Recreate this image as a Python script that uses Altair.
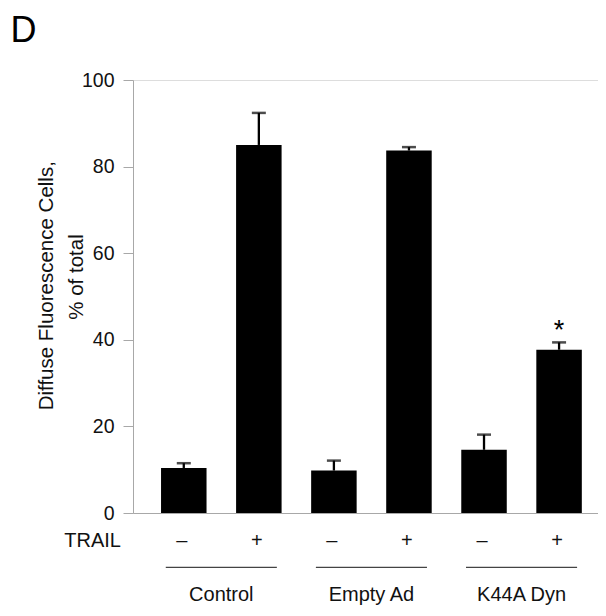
import altair as alt
import pandas as pd

# ---- data ----
groups = ["Control", "Control", "Empty Ad", "Empty Ad", "K44A Dyn", "K44A Dyn"]
trail = ["–", "+", "–", "+", "–", "+"]
values = [10.4, 85.0, 9.8, 83.7, 14.6, 37.7]
err_top = [11.5, 92.4, 12.1, 84.5, 18.1, 39.4]
signif = ["", "", "", "", "", "*"]
group_names = ["Control", "Empty Ad", "K44A Dyn"]
y_ticks = [0, 20, 40, 60, 80, 100]
title_lines = ["Diffuse Fluorescence Cells,", "% of total"]
row_label = "TRAIL"
panel_label = "D"

FONT = "Liberation Sans"
W, H = 465, 433

df = pd.DataFrame({
    "idx": list(range(len(values))),
    "group": groups,
    "trail": trail,
    "value": values,
    "err": err_top,
    "sig": signif,
})
gdf = pd.DataFrame({"g": list(range(len(group_names))), "name": group_names})

xscale = alt.Scale(domain=[-0.610, 5.452], nice=False, zero=False)
yscale = alt.Scale(domain=[0, 100], nice=False)

x = alt.X("idx:Q", scale=xscale,
          axis=alt.Axis(title=None, labels=False, ticks=False, grid=False,
                        domainColor="#a8a8a8", domainWidth=1))
y = alt.Y("value:Q", scale=yscale,
          axis=alt.Axis(title=None, values=y_ticks, grid=False, tickSize=10,
                        tickColor="#a8a8a8", domainColor="#a8a8a8",
                        labelFont=FONT, labelFontSize=19.5, labelColor="#111",
                        labelPadding=9))

bars = alt.Chart(df).mark_bar(size=45.5, color="black").encode(x=x, y=y)

err_rule = alt.Chart(df).mark_rule(color="black", strokeWidth=2.3).encode(
    x=alt.X("idx:Q", scale=xscale), y=alt.Y("value:Q", scale=yscale), y2="err:Q")

err_cap = alt.Chart(df).mark_tick(color="black", orient="horizontal", size=14,
                                  thickness=2.5).encode(
    x=alt.X("idx:Q", scale=xscale), y=alt.Y("err:Q", scale=yscale))

star = alt.Chart(df).mark_text(font=FONT, fontSize=27, baseline="alphabetic",
                               align="center", dy=-3, color="black").encode(
    x=alt.X("idx:Q", scale=xscale), y=alt.Y("err:Q", scale=yscale), text="sig:N")

signs = alt.Chart(df).mark_text(font=FONT, fontSize=20, baseline="alphabetic",
                                align="center", dx=-2, color="#111").encode(
    x=alt.X("idx:Q", scale=xscale), y=alt.value(467), text="trail:N")

trail_lbl = alt.Chart(pd.DataFrame({"t": [row_label]})).mark_text(
    font=FONT, fontSize=20, baseline="alphabetic", align="right", color="#111"
).encode(x=alt.value(-12), y=alt.value(467), text="t:N")

glines = alt.Chart(gdf).transform_calculate(
    a="2*datum.g + 0.5 - 0.74", b="2*datum.g + 0.5 + 0.74"
).mark_rule(color="#444", strokeWidth=1.3).encode(
    x=alt.X("a:Q", scale=xscale), x2="b:Q", y=alt.value(487.3))

glabels = alt.Chart(gdf).transform_calculate(c="2*datum.g + 0.5").mark_text(
    font=FONT, fontSize=20, baseline="alphabetic", align="center", color="#111"
).encode(x=alt.X("c:Q", scale=xscale), y=alt.value(521), text="name:N")

t1 = alt.Chart(pd.DataFrame({"t": [title_lines[0]]})).mark_text(
    font=FONT, fontSize=20.5, angle=270, baseline="alphabetic", align="center",
    color="#111").encode(x=alt.value(-79.7), y=alt.value(205.7), text="t:N")
t2 = alt.Chart(pd.DataFrame({"t": [title_lines[1]]})).mark_text(
    font=FONT, fontSize=20.5, angle=270, baseline="alphabetic", align="center",
    color="#111").encode(x=alt.value(-49.7), y=alt.value(197), text="t:N")

dlabel = alt.Chart(pd.DataFrame({"t": [panel_label]})).mark_text(
    font=FONT, fontSize=36, baseline="alphabetic", align="left", color="black"
).encode(x=alt.value(-122.5), y=alt.value(-38.3), text="t:N")

chart = alt.layer(bars, err_rule, err_cap, star, signs, trail_lbl, glines,
                  glabels, t1, t2, dlabel).properties(
    width=W, height=H,
    autosize=alt.AutoSizeParams(type="none"),
    padding={"left": 125, "top": 72, "right": 0, "bottom": 95},
).configure_view(stroke=None).configure(background="white")

chart.save("out.html", embed_options={"renderer": "svg", "actions": False})
